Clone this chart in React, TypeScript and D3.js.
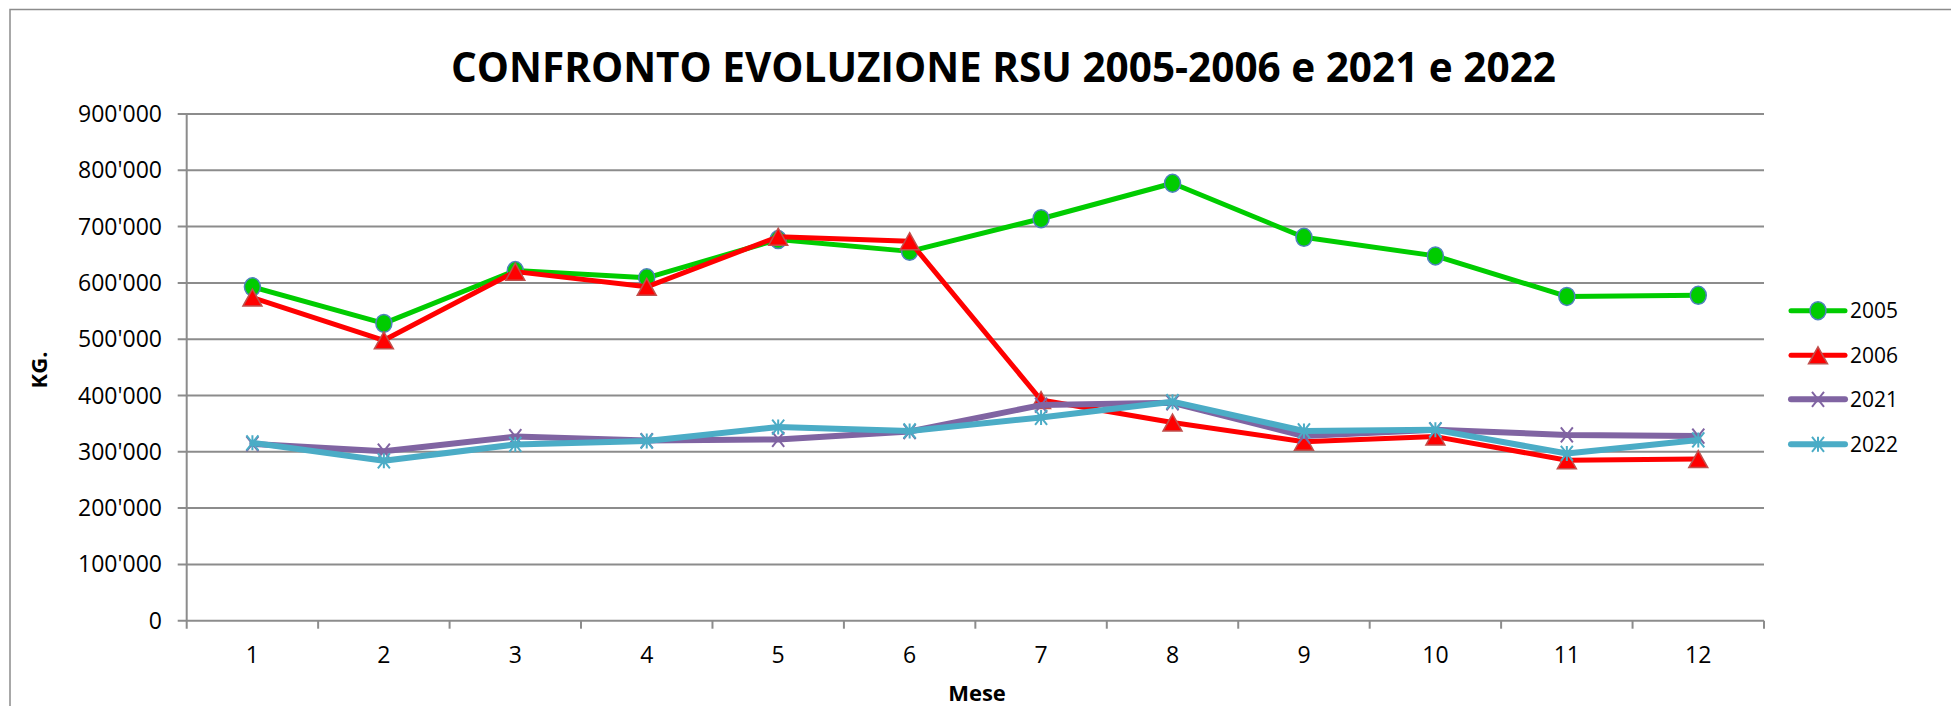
import * as d3 from "d3";

// months on the x axis
const months = [1, 2, 3, 4, 5, 6, 7, 8, 9, 10, 11, 12];

// kg per month
const rsu2005 = [593000, 528000, 622000, 609000, 677000, 656000, 714000, 777000, 681000, 648000, 576000, 578000];
const rsu2006 = [574000, 498000, 620000, 593000, 682000, 674000, 392000, 352000, 318000, 327000, 285000, 287000];
const rsu2021 = [314000, 301000, 327000, 320000, 322000, 336000, 383000, 387000, 328000, 339000, 330000, 328000];
const rsu2022 = [316000, 284000, 313000, 319000, 344000, 337000, 361000, 389000, 337000, 339000, 297000, 321000];

const yTicks = [0, 100000, 200000, 300000, 400000, 500000, 600000, 700000, 800000, 900000];

const seriesNames = ["2005", "2006", "2021", "2022"];

const W = 1951;
const H = 706;
const FONT = "'Open Sans', sans-serif";

const series = [
  { name: seriesNames[0], values: rsu2005, color: "#00cc00", width: 5, marker: "circle" },
  { name: seriesNames[1], values: rsu2006, color: "#ff0000", width: 5, marker: "triangle" },
  { name: seriesNames[2], values: rsu2021, color: "#8064a2", width: 6, marker: "x" },
  { name: seriesNames[3], values: rsu2022, color: "#4bacc6", width: 6, marker: "star" },
];

const fmt = (v: number) => d3.format(",")(v).replace(/,/g, "'");

const Marker = ({ type, x, y, color }: { type: string; x: number; y: number; color: string }) => {
  if (type === "circle") {
    return <ellipse cx={x} cy={y} rx={8} ry={9} fill="#00cc00" stroke="#4f81bd" strokeWidth={1.5} />;
  }
  if (type === "triangle") {
    const w = 19;
    const h = 17;
    return (
      <path
        d={`M${x},${y - h / 2} L${x + w / 2},${y + h / 2} L${x - w / 2},${y + h / 2} Z`}
        fill="#ff0000"
        stroke="#c0504d"
        strokeWidth={1.5}
      />
    );
  }
  const s = 7.5;
  const xPath = `M${x - s * 0.8},${y - s} L${x + s * 0.8},${y + s} M${x + s * 0.8},${y - s} L${x - s * 0.8},${y + s}`;
  if (type === "x") {
    return <path d={xPath} stroke={color} strokeWidth={2} fill="none" />;
  }
  return <path d={`${xPath} M${x},${y - s} L${x},${y + s}`} stroke={color} strokeWidth={2} fill="none" />;
};

export default function App() {
  const left = 186.7;
  const right = 1764;
  const top = 114;
  const bottom = 620.7;

  const x = d3.scaleBand<number>().domain(months).range([left, right]);
  const y = d3.scaleLinear().domain([0, 900000]).range([bottom, top]);
  const cx = (m: number) => (x(m) as number) + x.bandwidth() / 2;

  const line = d3
    .line<number>()
    .x((_, i) => cx(months[i]))
    .y((d) => y(d));

  const grid = "#8c8c8c";
  const legendX = 1791;
  const legendRows = [310.7, 355.3, 399.3, 444.3];

  return (
    <svg
      width={W}
      height={H}
      style={{ position: "absolute", left: 0, top: 0, background: "#fff" }}
      fontFamily={FONT}
    >
      <rect x={10} y={9.5} width={2000} height={800} fill="#fff" stroke={grid} strokeWidth={1.5} />

      <text x={1003.5} y={82} textAnchor="middle" fontSize={40.5} fontWeight="bold" fill="#000">
        CONFRONTO EVOLUZIONE RSU 2005-2006 e 2021 e 2022
      </text>

      {/* gridlines + y ticks */}
      {yTicks.map((t) => (
        <g key={t}>
          <line x1={left - 9} x2={right} y1={y(t)} y2={y(t)} stroke={grid} strokeWidth={2} />
          <text x={162} y={y(t) + 8} textAnchor="end" fontSize={23} fill="#000">
            {fmt(t)}
          </text>
        </g>
      ))}
      <line x1={left} x2={left} y1={top} y2={bottom + 8} stroke={grid} strokeWidth={2} />

      {/* x ticks */}
      {months.map((m, i) => (
        <g key={m}>
          <line
            x1={(x(m) as number) + x.bandwidth()}
            x2={(x(m) as number) + x.bandwidth()}
            y1={bottom}
            y2={bottom + 8}
            stroke={grid}
            strokeWidth={2}
          />
          <text x={cx(m)} y={663} textAnchor="middle" fontSize={23} fill="#000">
            {months[i]}
          </text>
        </g>
      ))}

      <text x={977} y={701} textAnchor="middle" fontSize={22} fontWeight="bold" fill="#000">
        Mese
      </text>
      <text
        transform={`translate(47,370) rotate(-90)`}
        textAnchor="middle"
        fontSize={22}
        fontWeight="bold"
        fill="#000"
      >
        KG.
      </text>

      {/* series */}
      {series.map((s) => (
        <g key={s.name}>
          <path
            d={line(s.values) as string}
            fill="none"
            stroke={s.color}
            strokeWidth={s.width}
            strokeLinejoin="round"
            strokeLinecap="round"
          />
          {s.values.map((v, i) => (
            <Marker key={i} type={s.marker} x={cx(months[i])} y={y(v)} color={s.color} />
          ))}
        </g>
      ))}

      {/* legend */}
      {series.map((s, i) => (
        <g key={s.name}>
          <line
            x1={legendX}
            x2={legendX + 54}
            y1={legendRows[i]}
            y2={legendRows[i]}
            stroke={s.color}
            strokeWidth={s.width}
            strokeLinecap="round"
          />
          <Marker type={s.marker} x={legendX + 27} y={legendRows[i]} color={s.color} />
          <text x={1850} y={legendRows[i] + 7.5} fontSize={21} fill="#000">
            {s.name}
          </text>
        </g>
      ))}
    </svg>
  );
}
